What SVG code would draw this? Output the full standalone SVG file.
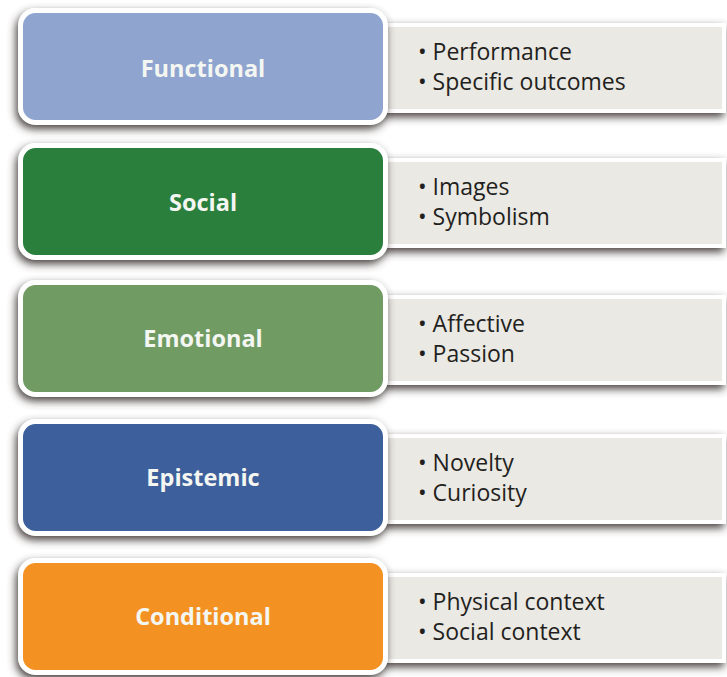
<svg xmlns="http://www.w3.org/2000/svg" width="727" height="677" viewBox="0 0 727 677">
<defs>
<filter id="sh" x="-10%" y="-20%" width="120%" height="150%">
<feDropShadow dx="-2" dy="4" stdDeviation="4.5" flood-color="#3f3937" flood-opacity="0.95"/>
</filter>
<style>
.lb{stroke:#fff;stroke-width:5;filter:url(#sh)}
.rb{fill:#EBE9E4;stroke:#fff;stroke-width:4;filter:url(#sh)}
.lt{font-family:"Open Sans","Noto Sans",sans-serif;font-weight:700;font-size:23.5px;fill:#F4F6F2;text-anchor:middle}
.rt{font-family:"Open Sans","Noto Sans",sans-serif;font-size:23px;fill:#231F20}
</style>
</defs>
<rect width="727" height="677" fill="#fff"/>
<g id="connectors"/>
<g id="functional">
<rect class="rb" x="381" y="25" width="343" height="86"/>
<rect class="lb" x="20.5" y="10.5" width="365" height="112" rx="15" fill="#8FA5CF"/>
<text class="lt" x="203" y="77">Functional</text>
<text class="rt" x="418" y="60">• Performance</text>
<text class="rt" x="418" y="90">• Specific outcomes</text>
</g>
<g id="social">
<rect class="rb" x="381" y="160" width="343" height="86"/>
<rect class="lb" x="20.5" y="145.5" width="365" height="112" rx="15" fill="#2B7F3E"/>
<text class="lt" x="203" y="211">Social</text>
<text class="rt" x="418" y="195">• Images</text>
<text class="rt" x="418" y="225">• Symbolism</text>
</g>
<g id="emotional">
<rect class="rb" x="381" y="297" width="343" height="86"/>
<rect class="lb" x="20.5" y="282.5" width="365" height="112" rx="15" fill="#6F9B63"/>
<text class="lt" x="203" y="347">Emotional</text>
<text class="rt" x="418" y="332">• Affective</text>
<text class="rt" x="418" y="362">• Passion</text>
</g>
<g id="epistemic">
<rect class="rb" x="381" y="436" width="343" height="86"/>
<rect class="lb" x="20.5" y="421.5" width="365" height="112" rx="15" fill="#3C5F9B"/>
<text class="lt" x="203" y="486">Epistemic</text>
<text class="rt" x="418" y="471">• Novelty</text>
<text class="rt" x="418" y="501">• Curiosity</text>
</g>
<g id="conditional">
<rect class="rb" x="381" y="575" width="343" height="86"/>
<rect class="lb" x="20.5" y="560.5" width="365" height="112" rx="15" fill="#F39221"/>
<text class="lt" x="203" y="625">Conditional</text>
<text class="rt" x="418" y="610">• Physical context</text>
<text class="rt" x="418" y="640">• Social context</text>
</g>
</svg>
